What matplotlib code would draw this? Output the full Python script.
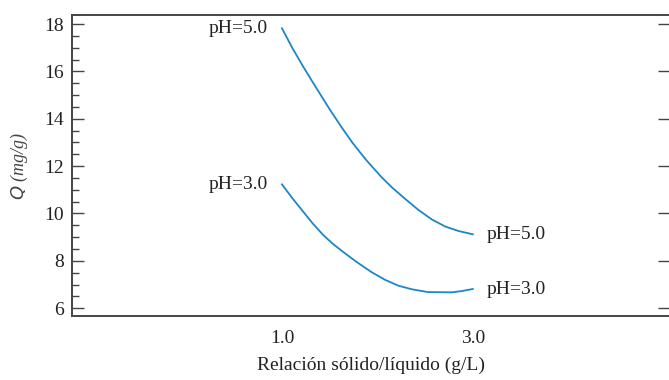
import matplotlib
matplotlib.use("Agg")
import matplotlib.pyplot as plt
from matplotlib.ticker import MultipleLocator

# data
ratio_ph5 = [1.0, 1.11, 1.22, 1.32, 1.41, 1.50, 1.62, 1.74, 1.88, 2.04,
             2.15, 2.29, 2.43, 2.57, 2.71, 2.85, 3.0]
q_ph5 = [17.82, 16.98, 16.22, 15.56, 14.98, 14.40, 13.67, 12.98, 12.27, 11.55,
         11.11, 10.62, 10.15, 9.75, 9.45, 9.26, 9.12]
ratio_ph3 = [1.0, 1.11, 1.22, 1.32, 1.43, 1.53, 1.64, 1.78, 1.94, 2.08,
             2.22, 2.36, 2.53, 2.78, 2.88, 3.0]
q_ph3 = [11.23, 10.64, 10.09, 9.59, 9.10, 8.73, 8.38, 7.96, 7.52, 7.20,
         6.95, 6.80, 6.68, 6.67, 6.72, 6.81]
series_labels = ["pH=5.0", "pH=3.0"]
x_ticks = [1.0, 3.0]
x_ticklabels = ["1.0", "3.0"]

plt.rcParams['font.family'] = ['Liberation Serif', 'DejaVu Serif']

fig = plt.figure(figsize=(6.69, 3.80), dpi=100)
ax = fig.add_axes([0.1076, 0.1684, 0.8944, 0.7921])

blue = '#1a87c6'
ax.plot(ratio_ph5, q_ph5, color=blue, lw=1.3)
ax.plot(ratio_ph3, q_ph3, color=blue, lw=1.3)

# curve labels at both ends
for xs, q, lab in zip([ratio_ph5, ratio_ph3], [q_ph5, q_ph3], series_labels):
    ax.text(xs[0] - 0.15, q[0], lab, ha='right', va='center',
            fontsize=14, color='#222222')
    ax.text(xs[-1] + 0.15, q[-1], lab, ha='left', va='center',
            fontsize=14, color='#222222')

ax.set_xlim(-1.2, 5.07)
ax.set_ylim(5.67, 18.38)
ax.set_xticks(x_ticks)
ax.set_xticklabels(x_ticklabels)
ax.yaxis.set_major_locator(MultipleLocator(2))
ax.yaxis.set_minor_locator(MultipleLocator(0.5))

ax.tick_params(axis='x', length=0, pad=10, labelsize=14, colors='#222222')
ax.tick_params(axis='y', which='major', direction='in', length=8.5, width=1,
               right=True, labelsize=14, pad=6, colors='#444444',
               labelcolor='#222222')
ax.tick_params(axis='y', which='minor', direction='in', length=5, width=1,
               colors='#444444')

for s in ax.spines.values():
    s.set_color('#444444')
    s.set_linewidth(1.4)

ax.set_xlabel('Relación sólido/líquido (g/L)', fontsize=14,
              color='#222222', labelpad=7)
ax.set_ylabel('$Q$ (mg/g)', fontsize=13, style='italic', color='#444444',
              labelpad=10)

fig.savefig('out.png', dpi=100)
